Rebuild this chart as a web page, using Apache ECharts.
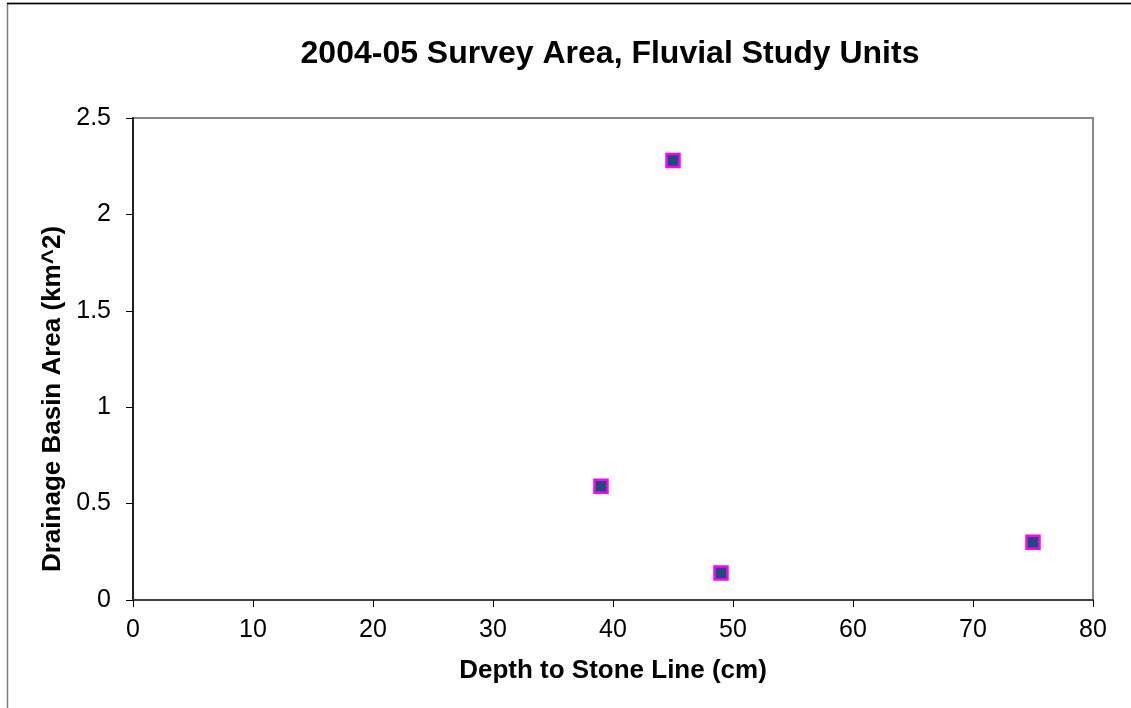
<!DOCTYPE html>
<html lang="en">
<head>
<meta charset="UTF-8">
<title>2004-05 Survey Area, Fluvial Study Units</title>
<script src="https://cdn.jsdelivr.net/npm/echarts@6/dist/echarts.min.js"></script>
<style>
    html, body { margin: 0; padding: 0; background: #fff; }
    #chart { width: 1131px; height: 708px; }
</style>
</head>
<body>
<div id="chart"></div>
<script>
    // depth to stone line (cm) vs drainage basin area (km^2)
    const depthCm = [39, 45, 49, 75];
    const basinArea = [0.59, 2.28, 0.14, 0.30];

    const font = '"Liberation Sans", Arial, sans-serif';
    const chart = echarts.init(document.getElementById('chart'));

    chart.setOption({
        animation: false,
        backgroundColor: '#fff',
        title: {
            text: '2004-05 Survey Area, Fluvial Study Units',
            left: 605,
            top: 33,
            textAlign: 'center',
            textStyle: { fontFamily: font, fontSize: 32, fontWeight: 'bold', color: '#000' }
        },
        graphic: [{
            type: 'rect',
            shape: { x: 7.5, y: 3.5, width: 1130, height: 720 },
            style: { fill: 'none', stroke: '#7f7f7f', lineWidth: 1.5 },
            z: 100
        }, {
            type: 'line',
            shape: { x1: 7, y1: 3.5, x2: 1131, y2: 3.5 },
            style: { stroke: '#000', lineWidth: 1.5 },
            z: 101
        }],
        grid: {
            left: 133, top: 118, right: 38, bottom: 108,
            show: true, borderColor: '#888', borderWidth: 2
        },
        xAxis: {
            type: 'value',
            min: 0, max: 80, interval: 10,
            name: 'Depth to Stone Line (cm)',
            nameLocation: 'middle',
            nameGap: 58,
            nameTextStyle: { fontFamily: font, fontSize: 26, fontWeight: 'bold', color: '#000' },
            axisLine: { show: true, lineStyle: { color: '#404040', width: 2 } },
            axisTick: { show: true, inside: false, length: 7, lineStyle: { color: '#000', width: 1 } },
            axisLabel: { fontFamily: font, fontSize: 25, color: '#000', margin: 18 },
            splitLine: { show: false }
        },
        yAxis: {
            type: 'value',
            min: 0, max: 2.5, interval: 0.5,
            name: 'Drainage Basin Area (km^2)',
            nameLocation: 'middle',
            nameGap: 61,
            nameTextStyle: {
                fontFamily: font, fontSize: 26, fontWeight: 'bold', color: '#000',
                padding: [0, 80, 0, 0]
            },
            axisLine: { show: true, lineStyle: { color: '#202020', width: 2 } },
            axisTick: { show: true, inside: false, length: 7, lineStyle: { color: '#000', width: 1 } },
            axisLabel: { fontFamily: font, fontSize: 25, color: '#000', margin: 22 },
            splitLine: { show: false }
        },
        series: [{
            type: 'scatter',
            symbol: 'rect',
            symbolSize: 13,
            data: depthCm.map((d, i) => [d, basinArea[i]]),
            itemStyle: { color: '#1f4a7c', borderColor: '#ff00ff', borderWidth: 2.5, opacity: 1 }
        }]
    });
</script>
</body>
</html>
